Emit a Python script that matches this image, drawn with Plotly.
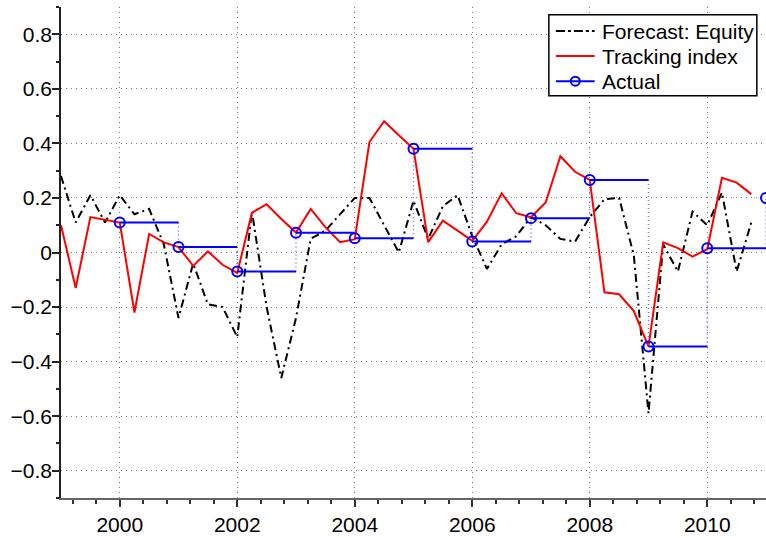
import plotly.graph_objects as go

# ---- data ----
start_year = 1999
quarters = [start_year + 0.25 * k for k in range(48)]

forecast_equity = [0.28, 0.11, 0.21, 0.11, 0.21, 0.14, 0.16, 0.03,
                   -0.24, -0.04, -0.19, -0.20, -0.31, 0.15, -0.20, -0.46,
                   -0.24, 0.05, 0.08, 0.14, 0.20, 0.20, 0.10, 0.00,
                   0.19, 0.05, 0.17, 0.21, 0.06, -0.06, 0.03, 0.06,
                   0.13, 0.10, 0.05, 0.04, 0.13, 0.195, 0.20, -0.01,
                   -0.59, 0.03, -0.07, 0.15, 0.10, 0.22, -0.07, 0.11]

tracking_index = [0.10, -0.13, 0.13, 0.12, 0.11, -0.22, 0.068, 0.037,
                  0.02, -0.049, 0.004, -0.045, -0.075, 0.146, 0.177, 0.123,
                  0.073, 0.16, 0.093, 0.038, 0.049, 0.405, 0.481, 0.43,
                  0.38, 0.038, 0.117, 0.08, 0.043, 0.113, 0.217, 0.144,
                  0.129, 0.183, 0.353, 0.296, 0.266, -0.146, -0.153, -0.215,
                  -0.345, 0.037, 0.016, -0.015, 0.012, 0.274, 0.256, 0.214]

actual_years = [2000, 2001, 2002, 2003, 2004, 2005, 2006, 2007, 2008, 2009, 2010, 2011]
actual_values = [0.11, 0.02, -0.07, 0.072, 0.052, 0.38, 0.04, 0.126, 0.266, -0.345, 0.016, 0.20]

series_names = ["Forecast: Equity", "Tracking index", "Actual"]

x_range = [1999, 2011]
y_range = [-0.9, 0.9]

FONT = "Liberation Sans, Arial, sans-serif"
BLUE = "#0000ff"
RED = "#ff0000"
BLACK_DASH = "8px,4px,2px,4px"

# step segments for Actual
hx, hy, vx, vy = [], [], [], []
for i in range(len(actual_years) - 1):
    hx += [actual_years[i], actual_years[i + 1], None]
    hy += [actual_values[i], actual_values[i], None]
    vx += [actual_years[i + 1], actual_years[i + 1], None]
    vy += [actual_values[i], actual_values[i + 1], None]

fig = go.Figure()
fig.add_trace(go.Scatter(x=quarters, y=forecast_equity, mode="lines",
                         name=series_names[0],
                         line=dict(color="black", width=2, dash=BLACK_DASH)))
fig.add_trace(go.Scatter(x=quarters, y=tracking_index, mode="lines",
                         name=series_names[1],
                         line=dict(color=RED, width=2)))
fig.add_trace(go.Scatter(x=vx, y=vy, mode="lines",
                         line=dict(color="#7070ff", width=1.5, dash="1px,3px")))
fig.add_trace(go.Scatter(x=hx, y=hy, mode="lines",
                         line=dict(color=BLUE, width=2)))
fig.add_trace(go.Scatter(x=actual_years, y=actual_values, mode="markers",
                         name=series_names[2],
                         marker=dict(symbol="circle-open", size=10, color=BLUE,
                                     line=dict(width=2, color=BLUE))))

# ---- legend box (drawn in paper coordinates) ----
lx0, lx1, ly0, ly1 = 0.692, 0.987, 0.819, 0.984
row_y = [0.951, 0.900, 0.849]
sx0, sx1 = 0.702, 0.757
shapes = [dict(type="rect", xref="paper", yref="paper", x0=lx0, x1=lx1, y0=ly0, y1=ly1,
               line=dict(color="black", width=1.5), fillcolor="white", layer="above")]
styles = [dict(color="black", width=2, dash="dashdot"),
          dict(color=RED, width=2),
          dict(color=BLUE, width=2)]
annotations = []
for name, yy, st in zip(series_names, row_y, styles):
    shapes.append(dict(type="line", xref="paper", yref="paper", x0=sx0, x1=sx1,
                       y0=yy, y1=yy, line=st, layer="above"))
    annotations.append(dict(xref="paper", yref="paper", x=0.765, y=yy, text=name,
                            showarrow=False, xanchor="left", yanchor="middle",
                            font=dict(family=FONT, size=21, color="black")))
shapes.append(dict(type="circle", xref="paper", yref="paper",
                   xsizemode="pixel", ysizemode="pixel",
                   xanchor=(sx0 + sx1) / 2, yanchor=row_y[2],
                   x0=-4.5, x1=4.5, y0=-4.5, y1=4.5,
                   line=dict(color=BLUE, width=2), fillcolor="rgba(0,0,0,0)", layer="above"))

fig.update_layout(
    width=766, height=538,
    margin=dict(l=61, r=0, t=7, b=40),
    paper_bgcolor="white", plot_bgcolor="white",
    font=dict(family=FONT, size=21, color="black"),
    showlegend=False,
    shapes=shapes,
    annotations=annotations,
    xaxis=dict(range=x_range, tick0=2000, dtick=2, ticks="outside", ticklen=7,
               tickwidth=1.5, tickcolor="#333", automargin=False,
               showline=True, linecolor="#666", linewidth=2,
               showgrid=True, gridcolor="#777", griddash="1px,4px", gridwidth=1,
               zeroline=False,
               minor=dict(tick0=2000, dtick=0.4, ticks="outside", ticklen=4,
                          tickcolor="#333", showgrid=False)),
    yaxis=dict(range=y_range, tick0=0, dtick=0.2, ticks="outside", ticklen=7,
               tickwidth=1.5, tickcolor="#222", ticklabelstandoff=-4, automargin=False,
               showline=True, linecolor="#222", linewidth=1.5,
               showgrid=True, gridcolor="#777", griddash="1px,4px", gridwidth=1,
               zeroline=False,
               minor=dict(tick0=0, dtick=0.1, ticks="outside", ticklen=3,
                          tickcolor="#222", showgrid=False)),
)

# remove the page's default body margin so the 766x538 figure fills the window
fig.write_html("out.html",
               config={"displayModeBar": False},
               post_script="document.body.style.margin='0';document.body.style.overflow='hidden';")
